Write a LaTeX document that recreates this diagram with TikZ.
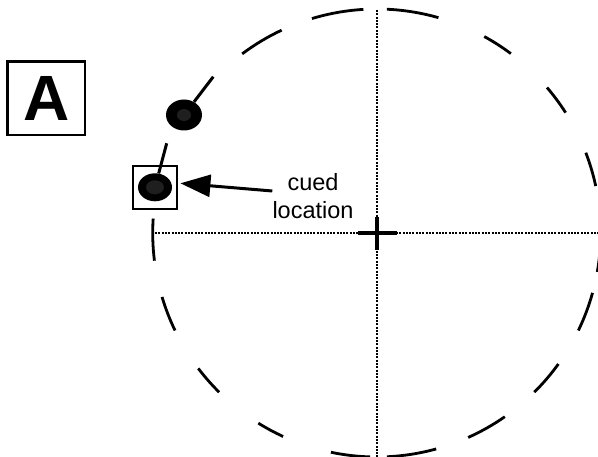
\documentclass[tikz,border=0pt]{standalone}
\usepackage{fontspec}
\setmainfont{Liberation Sans}
\usetikzlibrary{arrows.meta,shapes.geometric}
\begin{document}
\begin{tikzpicture}[x=1pt,y=1pt,
  circdash/.style={line width=2.8pt,line cap=butt},
  dotline/.style={line width=2.4pt,dash pattern=on 2pt off 1.3pt},
  ball/.style={ellipse,fill=black,inner sep=0pt},
  tail/.style={line width=3pt},
  framebox/.style={draw,line width=2.2pt,inner sep=0pt,minimum width=44pt,minimum height=43pt},
  lbl/.style={font=\fontsize{23.5}{28.5}\selectfont,align=center,inner sep=0pt},
  pointer/.style={line width=3pt,-{Triangle[length=30pt,width=22pt]}},
  crossbar/.style={line width=3.8pt}]
\useasboundingbox (0,0) rectangle (598,457);
\coordinate (C) at (376.7,224);
\def\R{224}
% dashed circle
\foreach \a/\b in {74.0/87.4, 53.2/61.3, 32.5/40.5, 12.1/21.0, -10/-3.5,
  -25.8/-15.5, -45.3/-35.8, -65.9/-55.1, -87.4/-74.6, -101.8/-91.7,
  -121.9/-114.7, -142.8/-134.7, -163.4/-154.2, 176.3/187.1,
  115.1/126.9, 93.4/106.8}
  \draw[circdash] ([shift={(\a:\R)}]C) arc[start angle=\a,end angle=\b,radius=\R];
% dotted axes
\coordinate (vt) at (376.7,447);
\coordinate (vb) at (376.7,0);
\coordinate (hl) at (151.7,224);
\coordinate (hr) at (598,224);
\draw[dotline] (vt) -- (vb);
\draw[dotline] (hl) -- (hr);
% fixation cross
\coordinate (cl) at (358,224);
\coordinate (cr) at (397,224);
\coordinate (ct) at (376.7,240);
\coordinate (cb) at (376.7,207);
\draw[crossbar] (cl) -- (cr);
\draw[crossbar] (ct) -- (cb);
% balls
\node[ball,minimum width=36pt,minimum height=31pt] (ball1) at (184,342) {};
\node[ball,minimum width=34pt,minimum height=28pt] (ball2) at (155,269.7) {};
\fill[black!88] (ball1) ellipse (7pt and 6pt);
\fill[black!88] (ball2) ellipse (9pt and 7pt);
\coordinate (t1) at (213.3,380.3);
\coordinate (t2) at (166.7,313.7);
\draw[tail] (ball1) -- (t1);
\draw[tail] (ball2) -- (t2);
\node[framebox] (box) at (155.3,269.7) {};
% label and arrow
\node[lbl] (label) at (313,261) {cued\\location};
\draw[pointer] ([yshift=5pt]label.west) -- ([yshift=4pt,xshift=2pt]box.east);
% panel letter
\node[draw,line width=2.4pt,minimum width=77.7pt,minimum height=73.3pt,inner sep=0pt,
  font=\fontsize{64}{64}\selectfont\bfseries] (letter) at (46.2,358.7) {A};
\end{tikzpicture}
\end{document}
